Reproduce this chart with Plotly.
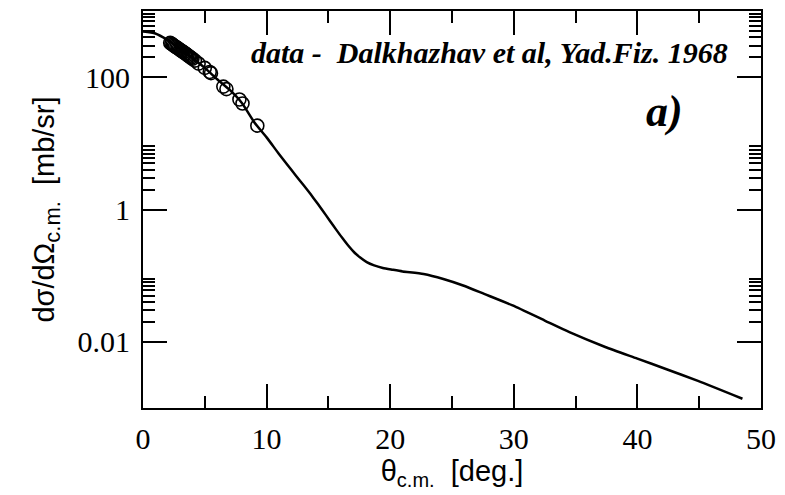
import plotly.graph_objects as go

# theoretical curve (theta in deg, dsigma/dOmega in mb/sr)
curve_theta = [0, 1, 2, 3, 4, 5, 6, 7, 8, 9, 10, 11, 12, 12.7, 13.3, 13.8, 14.5, 15.1, 15.6,
               16.1, 16.6, 17.1, 17.6, 18.1, 18.7, 19.4, 20.2, 21.0, 22.7, 24.3, 25.9, 27.6,
               29.9, 32.5, 34.5, 37.4, 40.0, 42.3, 44.9, 48.5]
curve_sigma = [490, 457, 363, 269, 195, 138, 93, 64.6, 40.7, 20.9, 12.3, 6.9, 3.98, 2.72,
               1.97, 1.485, 0.984, 0.684, 0.505, 0.376, 0.285, 0.224, 0.186, 0.160, 0.143,
               0.131, 0.123, 0.116, 0.106, 0.089, 0.071, 0.053, 0.0355, 0.021, 0.014, 0.00836,
               0.00558, 0.00389, 0.00257, 0.00138]

# experimental data (Dalkhazhav et al, Yad.Fiz. 1968)
data_theta = [2.2, 2.3, 2.4, 2.5, 2.6, 2.7, 2.8, 2.9, 3.0, 3.1, 3.2, 3.3, 3.4, 3.5, 3.6,
              3.7, 3.8, 3.9, 4.0, 4.2, 4.5, 5.0, 5.4, 5.5, 6.5, 6.75, 7.8, 8.05, 9.25]
data_sigma = [330, 320, 310, 300, 291, 283, 275, 267, 259, 251, 244, 237, 230, 223, 216,
              209, 202, 196, 190, 178, 160, 138, 120, 115, 72, 66, 46, 40, 18.5]

y_major = [0.01, 1, 100]
y_major_text = ["0.01", "1", "100"]
y_minor = [m * d for d in (0.01, 1, 100) for m in range(2, 10)]
x_ticks = [0, 10, 20, 30, 40, 50]

fig = go.Figure()
fig.add_trace(go.Scatter(x=curve_theta, y=curve_sigma, mode="lines",
                         line=dict(color="black", width=2.5, shape="spline", smoothing=0.6),
                         showlegend=False))
fig.add_trace(go.Scatter(x=data_theta, y=data_sigma, mode="markers",
                         marker=dict(symbol="circle-open", size=13, color="black",
                                     line=dict(width=1.6, color="black")),
                         showlegend=False))

serif = "Liberation Serif, Times New Roman, serif"
sans = "Liberation Sans, Arial, sans-serif"
tickfont = dict(family=serif, size=30, color="black")
titlefont = dict(family=sans, size=29, color="black")

fig.update_layout(
    width=785, height=495,
    margin=dict(l=143, r=20, t=9, b=87),
    plot_bgcolor="white", paper_bgcolor="white",
    xaxis=dict(range=[0, 50], tickvals=x_ticks, ticks="inside", ticklen=24, tickwidth=2,
               tickcolor="black", showline=True, linecolor="black", linewidth=2,
               mirror="ticks", showgrid=False, zeroline=False, tickfont=tickfont,
               ticklabelstandoff=3,
               minor=dict(dtick=5, tick0=0, ticks="inside", ticklen=12, tickwidth=2,
                          tickcolor="black", showgrid=False),
               title=dict(text="θ<sub><span style='font-size:20px'>c.m.</span></sub>  [deg.]",
                          font=titlefont, standoff=0)),
    yaxis=dict(type="log", range=[-3, 3], tickmode="array", tickvals=y_major,
               ticktext=y_major_text, ticks="inside", ticklen=24, tickwidth=2,
               tickcolor="black", showline=True, linecolor="black", linewidth=2,
               mirror="ticks", showgrid=False, zeroline=False, tickfont=tickfont,
               ticklabelstandoff=5,
               minor=dict(tickmode="array", tickvals=y_minor, ticks="inside", ticklen=12,
                          tickwidth=2, tickcolor="black", showgrid=False),
               title=dict(text="dσ/dΩ<sub><span style='font-size:22px'>c.m.</span></sub>  [mb/sr]",
                          font=titlefont, standoff=14)),
    annotations=[
        dict(x=734, y=51, xref="paper", yref="paper", xanchor="right", yanchor="middle",
             text="<b><i>data -  Dalkhazhav et al, Yad.Fiz. 1968</i></b>", showarrow=False,
             font=dict(family=serif, size=30, color="black")),
        dict(x=668, y=110, xref="paper", yref="paper", xanchor="center", yanchor="middle",
             text="<b><i>a)</i></b>", showarrow=False,
             font=dict(family=serif, size=44, color="black")),
    ],
)

# convert pixel annotation positions to paper coordinates
pw, ph = 785 - 143 - 20, 495 - 9 - 87
for a in fig.layout.annotations:
    a.x = (a.x - 143) / pw
    a.y = 1 - (a.y - 9) / ph

fig.write_html("out.html", config={"displayModeBar": False},
               post_script="document.body.style.margin='0';")
